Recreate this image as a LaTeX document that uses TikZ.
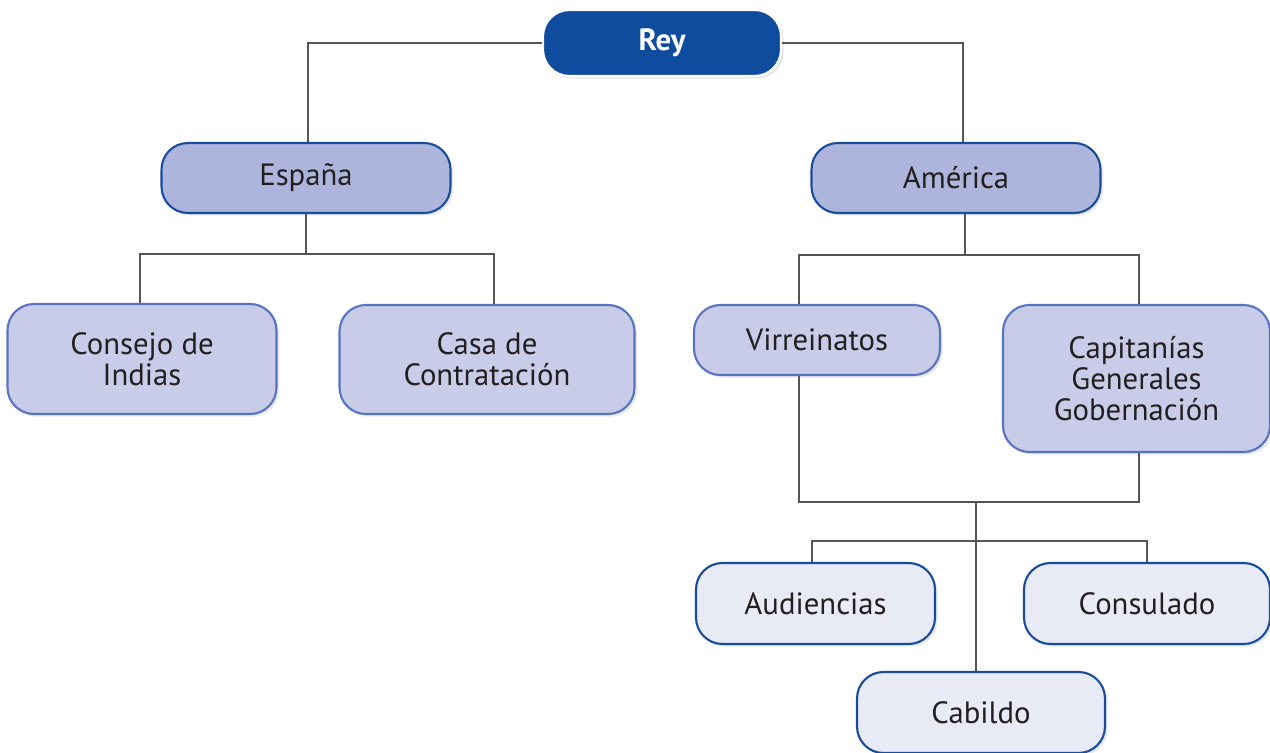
\documentclass[tikz,border=0pt]{standalone}
\usepackage{fontspec}
\setmainfont{PT Sans}
\usepackage{xcolor}
\usetikzlibrary{positioning,shadows}
\definecolor{reyblue}{HTML}{0F4C9E}
\definecolor{edgeblue}{HTML}{1A4C9C}
\definecolor{midedge}{HTML}{5A73C0}
\definecolor{topfill}{HTML}{ADB5DC}
\definecolor{midfill}{HTML}{C8CCE8}
\definecolor{lowfill}{HTML}{E8EAF5}
\definecolor{linkgray}{HTML}{555555}
\definecolor{inkblack}{HTML}{231F20}

\begin{document}
\begin{tikzpicture}[x=0.02cm, y=-0.02cm,
    org block/.style={rectangle, rounded corners=15pt, draw, line width=1.2pt, align=center, inner sep=0pt,
        text=inkblack, font=\fontsize{17.5}{17.5}\selectfont,
        drop shadow={opacity=0.18, shadow xshift=1.5pt, shadow yshift=-1.5pt}},
    rey block/.style={org block, fill=reyblue, draw=white, text=white, font=\fontsize{17.5}{17.5}\selectfont\bfseries},
    top block/.style={org block, fill=topfill, draw=edgeblue},
    mid block/.style={org block, fill=midfill, draw=midedge},
    low block/.style={org block, fill=lowfill, draw=edgeblue},
    link/.style={draw=linkgray, line width=1.1pt}]
    \useasboundingbox (0,0) rectangle (1270,753);
    \node[rey block, minimum width=4.76cm, minimum height=1.32cm] (rey) at (662,43) {Rey};
    \node[top block, minimum width=5.78cm, minimum height=1.4cm] (espana) at (306,178) {España};
    \node[top block, minimum width=5.78cm, minimum height=1.4cm] (america) at (956,178) {América};
    \node[mid block, minimum width=5.38cm, minimum height=2.2cm] (consejo) at (142,359) {Consejo de\\Indias};
    \node[mid block, minimum width=5.9cm, minimum height=2.18cm] (casa) at (487,359.5) {Casa de\\Contratación};
    \node[mid block, minimum width=4.92cm, minimum height=1.4cm] (virreinatos) at (817,340) {Virreinatos};
    \node[mid block, minimum width=5.34cm, minimum height=2.94cm] (capitanias) at (1136.5,378.5) {Capitanías\\Generales\\Gobernación};
    \node[low block, minimum width=4.78cm, minimum height=1.62cm] (audiencias) at (815.5,603.5) {Audiencias};
    \node[low block, minimum width=4.92cm, minimum height=1.62cm] (consulado) at (1147,603.5) {Consulado};
    \node[low block, minimum width=4.96cm, minimum height=1.62cm] (cabildo) at (981,712.5) {Cabildo};
    \coordinate (esp split) at (306,254);
    \coordinate (am split) at (965,255);
    \coordinate (gov split) at (976,502);
    \coordinate (low split) at (976,541);
    \begin{scope}[on background layer/.try]
    \draw[link] (rey.west) -| ([xshift=0.04cm]espana.north);
    \draw[link] (rey.east) -| ([xshift=0.14cm]america.north);
    \draw[link] (espana.south) -- (esp split);
    \draw[link] ([xshift=-0.04cm]consejo.north) |- (esp split) -| ([xshift=0.14cm]casa.north);
    \draw[link] ([xshift=0.18cm]america.south) -- (am split);
    \draw[link] ([xshift=-0.36cm]virreinatos.north) |- (am split) -| ([xshift=0.05cm]capitanias.north);
    \draw[link] ([xshift=-0.36cm]virreinatos.south) |- (gov split) -| ([xshift=0.05cm]capitanias.south);
    \draw[link] (gov split) -- (gov split |- cabildo.north);
    \draw[link] ([xshift=-0.07cm]audiencias.north) |- (low split) -| (consulado.north);
    \end{scope}
\end{tikzpicture}
\end{document}
